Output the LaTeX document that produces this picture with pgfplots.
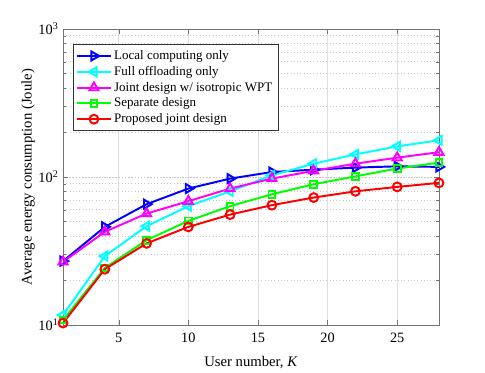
\documentclass[border=0pt]{standalone}
\usepackage{pgfplots}
\pgfplotsset{compat=1.18}
\usepackage{fontspec}
\setmainfont{Liberation Serif}
\definecolor{mblue}{rgb}{0,0,1}
\definecolor{mcyan}{rgb}{0,1,1}
\definecolor{mmag}{rgb}{1,0,1}
\definecolor{mgreen}{rgb}{0,1,0}
\definecolor{mred}{rgb}{1,0,0}
\begin{document}
\begin{tikzpicture}
\path (-48.5pt,-32.3pt) rectangle (324.6pt,250pt);
\begin{axis}[
  scale only axis, width=289.2pt, height=227.7pt,
  ymode=log, xmin=1, xmax=28, ymin=10, ymax=1000,
  xtick={5,10,15,20,25}, xticklabels={5,10,15,20,25},
  ytick={10,100,1000}, yticklabels={10\textsuperscript{1},10\textsuperscript{2},10\textsuperscript{3}},
  tick align=inside, tick pos=both,
  axis line style={black!55}, tick style={black!55},
  major tick length=4pt, minor tick length=2pt,
  xmajorgrids, ymajorgrids, yminorgrids,
  x grid style={gray!25, line width=0.5pt},
  y grid style={gray!45, dotted, line width=0.5pt},
  minor y grid style={gray!45, dotted, line width=0.5pt},
  xlabel={User number, \textit{K}}, ylabel={Average energy consumption (Joule)},
  xticklabel style={yshift=-3pt},
  xlabel style={yshift=-3pt}, ylabel style={yshift=-4pt},
  ticklabel style={font=\fontsize{11}{12}\selectfont},
  label style={font=\fontsize{11.3}{12}\selectfont},
  legend style={at={(0.026,0.948)}, anchor=north west, draw=black!80, font=\fontsize{10}{12}\selectfont, row sep=-0.3pt, inner sep=2.5pt, cells={anchor=west}},
  legend image code/.code={\draw[mark repeat=2,mark phase=2] plot coordinates {(0cm,0cm)(0.45cm,0cm)(0.9cm,0cm)};},
  every axis plot/.append style={line width=1.5pt},
]
\addplot[mblue, mark=triangle, mark size=4pt, mark options={rotate=-90, solid}] coordinates {
(1,27.0)(4,46)(7,65.5)(10,83.5)(13,97.5)(16,108)(19,112)(22,115.7)(25,118)(28,117)};
\addlegendentry{Local computing only}
\addplot[mcyan, mark=triangle, mark size=4pt, mark options={rotate=90, solid}] coordinates {
(1,11.7)(4,29.2)(7,46.5)(10,63.5)(13,80)(16,102.6)(19,123)(22,142)(25,161)(28,177)};
\addlegendentry{Full offloading only}
\addplot[mmag, mark=triangle, mark size=4pt] coordinates {
(1,26.7)(4,42.6)(7,56.6)(10,68.6)(13,83.5)(16,97.5)(19,110)(22,123)(25,135)(28,147)};
\addlegendentry{Joint design w/ isotropic WPT}
\addplot[mgreen, mark=square, mark size=2.6pt] coordinates {
(1,10.8)(4,24.3)(7,37.4)(10,50.5)(13,63.5)(16,76.4)(19,89.3)(22,101)(25,114)(28,125)};
\addlegendentry{Separate design}
\addplot[mred, mark=o, mark size=3.4pt] coordinates {
(1,10.3)(4,23.8)(7,35.6)(10,46)(13,55.7)(16,64.5)(19,72.6)(22,80)(25,85.7)(28,91.2)};
\addlegendentry{Proposed joint design}
\end{axis}
\end{tikzpicture}
\end{document}
